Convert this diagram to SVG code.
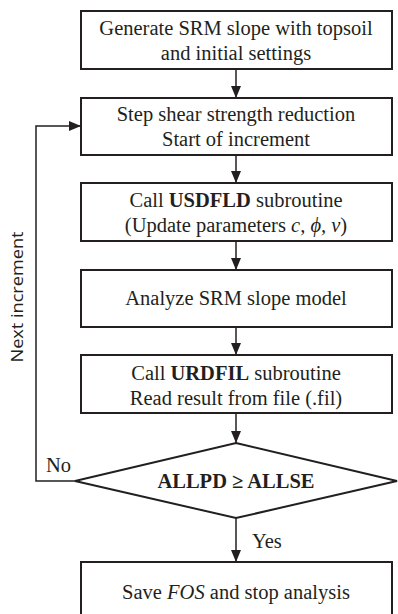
<svg xmlns="http://www.w3.org/2000/svg" width="398" height="614" viewBox="0 0 398 614">
<style>
.box{fill:#fff;stroke:#231f20;stroke-width:2}
.t{font-family:"Liberation Serif","Times New Roman",serif;font-size:20.5px;fill:#231f20;text-anchor:middle}
.b{font-weight:bold}
.ln{fill:none;stroke:#231f20;stroke-width:1.5}
.lab{font-family:"Liberation Serif",serif;font-size:20.5px;fill:#231f20}
</style>
<defs>
<marker id="ah" markerWidth="12" markerHeight="12" viewBox="0 0 12 12" refX="12" refY="6" orient="auto" markerUnits="userSpaceOnUse">
<path d="M0,1 L12,6 L0,11 Z" fill="#231f20"/>
</marker>
</defs>
<rect width="398" height="614" fill="#fff"/>
<g id="connectors">
<line class="ln" x1="236" y1="69" x2="236" y2="98" marker-end="url(#ah)"/>
<line class="ln" x1="236" y1="155" x2="236" y2="183" marker-end="url(#ah)"/>
<line class="ln" x1="236" y1="241" x2="236" y2="270" marker-end="url(#ah)"/>
<line class="ln" x1="236" y1="327" x2="236" y2="355" marker-end="url(#ah)"/>
<line class="ln" x1="236" y1="413" x2="236" y2="443" marker-end="url(#ah)"/>
<line class="ln" x1="236" y1="518" x2="236" y2="562" marker-end="url(#ah)"/>
<polyline class="ln" points="75,481 36,481 36,126 81,126" marker-end="url(#ah)"/>
<text class="lab" x="46" y="472">No</text>
<text class="lab" x="252" y="548">Yes</text>
<text x="23" y="297" transform="rotate(-90 23 297)" font-family="'Open Sans','Noto Sans',sans-serif" font-size="16" fill="#231f20" text-anchor="middle" textLength="131" lengthAdjust="spacingAndGlyphs">Next increment</text>
</g>
<g id="n1">
<rect class="box" x="81" y="11" width="311" height="58"/>
<text class="t" x="236" y="35">Generate SRM slope with topsoil</text>
<text class="t" x="236" y="60">and initial settings</text>
</g>
<g id="n2">
<rect class="box" x="81" y="98" width="311" height="57"/>
<text class="t" x="236" y="121">Step shear strength reduction</text>
<text class="t" x="236" y="146">Start of increment</text>
</g>
<g id="n3">
<rect class="box" x="81" y="183" width="311" height="58"/>
<text class="t" x="236" y="207">Call <tspan class="b">USDFLD</tspan> subroutine</text>
<text class="t" x="236" y="232">(Update parameters <tspan font-style="italic">c, ϕ, ν</tspan>)</text>
</g>
<g id="n4">
<rect class="box" x="81" y="270" width="311" height="57"/>
<text class="t" x="236" y="305">Analyze SRM slope model</text>
</g>
<g id="n5">
<rect class="box" x="81" y="355" width="311" height="58"/>
<text class="t" x="236" y="380">Call <tspan class="b">URDFIL</tspan> subroutine</text>
<text class="t" x="236" y="405">Read result from file (.fil)</text>
</g>
<g id="n6">
<polygon class="box" points="236,443 397,481 236,518 75,481"/>
<text class="t b" x="236" y="488">ALLPD ≥ ALLSE</text>
</g>
<g id="n7">
<rect class="box" x="81" y="562" width="311" height="60"/>
<text class="t" x="236" y="599">Save <tspan font-style="italic">FOS</tspan> and stop analysis</text>
</g>
</svg>
